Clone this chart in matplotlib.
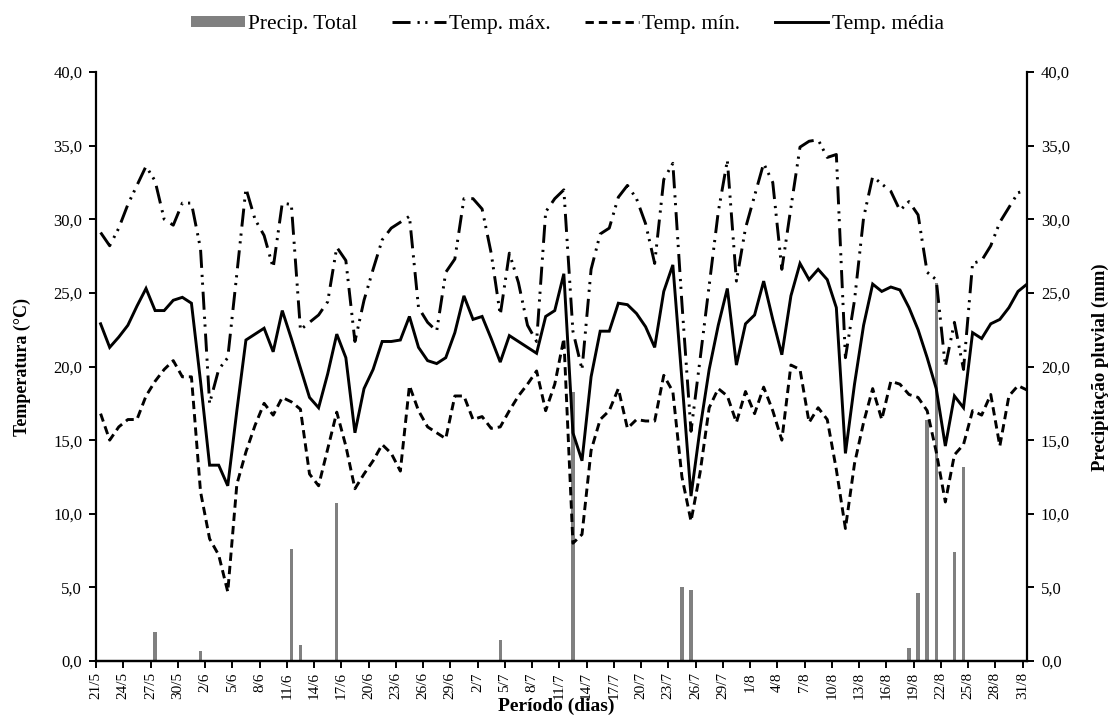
import matplotlib
matplotlib.use("Agg")
import matplotlib.pyplot as plt
from matplotlib.patches import Patch
from matplotlib.lines import Line2D
import numpy as np

plt.rcParams['font.family'] = ['Liberation Serif', 'DejaVu Serif']
plt.rcParams['lines.scale_dashes'] = False

# ---- data (daily, 21/5 .. 31/8) ----
tick_labels = ['21/5', '24/5', '27/5', '30/5', '2/6', '5/6', '8/6', '11/6', '14/6', '17/6',
               '20/6', '23/6', '26/6', '29/6', '2/7', '5/7', '8/7', '11/7', '14/7', '17/7',
               '20/7', '23/7', '26/7', '29/7', '1/8', '4/8', '7/8', '10/8', '13/8', '16/8',
               '19/8', '22/8', '25/8', '28/8', '31/8']

temp_max = [29.1, 28.2, 29.4, 31.0, 32.3, 33.6, 32.6, 30.0, 29.6, 31.1,
            31.1, 28.0, 17.5, 19.8, 20.6, 26.3, 32.1, 30.0, 28.9, 26.7,
            31.1, 31.0, 22.5, 23.0, 23.5, 24.4, 28.1, 27.2, 21.7, 24.5,
            26.6, 28.6, 29.4, 29.8, 30.2, 24.0, 23.0, 22.4, 26.4, 27.3,
            31.4, 31.4, 30.7, 27.7, 23.5, 27.7, 25.7, 22.8, 21.7, 30.5,
            31.4, 32.0, 22.4, 19.8, 26.6, 29.0, 29.4, 31.5, 32.3, 31.4,
            29.7, 27.0, 32.7, 33.8, 24.3, 15.6, 20.5, 25.5, 30.5, 34.0,
            25.8, 29.4, 31.6, 33.8, 32.5, 26.6, 30.8, 34.9, 35.3, 35.4,
            34.2, 34.4, 20.6, 24.5, 30.1, 32.9, 32.4, 31.9, 30.6, 31.2,
            30.3, 26.4, 25.9, 20.0, 23.0, 19.8, 27.0, 27.2, 28.2, 29.8,
            30.8, 31.8, 32.0]

temp_min = [16.8, 15.0, 15.9, 16.4, 16.4, 18.0, 19.0, 19.8, 20.4, 19.3,
            19.3, 11.5, 8.3, 7.2, 4.7, 12.0, 14.2, 16.0, 17.5, 16.7,
            17.9, 17.6, 17.1, 12.7, 11.9, 14.4, 16.9, 14.6, 11.7, 12.7,
            13.6, 14.7, 14.1, 12.9, 18.7, 17.0, 15.9, 15.5, 15.1, 18.0,
            18.0, 16.4, 16.6, 15.8, 15.9, 17.0, 18.0, 18.8, 19.7, 17.0,
            18.8, 21.9, 8.0, 8.6, 14.3, 16.4, 17.0, 18.5, 15.8, 16.4,
            16.3, 16.3, 19.4, 18.3, 12.5, 9.5, 12.8, 17.2, 18.5, 18.0,
            16.2, 18.3, 16.8, 18.6, 17.0, 15.0, 20.1, 19.8, 16.2, 17.2,
            16.4, 13.0, 9.0, 13.4, 16.2, 18.5, 16.4, 19.0, 18.8, 18.1,
            17.9, 17.0, 14.2, 10.8, 14.0, 14.7, 17.0, 16.7, 18.1, 14.6,
            18.0, 18.7, 18.4]

temp_med = [22.9, 21.3, 22.0, 22.8, 24.1, 25.3, 23.8, 23.8, 24.5, 24.7,
            24.3, 19.0, 13.3, 13.3, 11.9, 17.0, 21.8, 22.2, 22.6, 21.0,
            23.8, 21.9, 19.9, 17.9, 17.2, 19.5, 22.2, 20.6, 15.5, 18.5,
            19.8, 21.7, 21.7, 21.8, 23.4, 21.3, 20.4, 20.2, 20.6, 22.3,
            24.8, 23.2, 23.4, 21.9, 20.3, 22.1, 21.7, 21.3, 20.9, 23.4,
            23.8, 26.3, 15.5, 13.6, 19.3, 22.4, 22.4, 24.3, 24.2, 23.6,
            22.7, 21.3, 25.1, 26.9, 19.1, 11.2, 15.8, 19.8, 22.8, 25.3,
            20.1, 22.9, 23.5, 25.8, 23.2, 20.8, 24.8, 27.0, 25.9, 26.6,
            25.9, 24.0, 14.1, 18.8, 22.8, 25.6, 25.1, 25.4, 25.2, 24.0,
            22.5, 20.6, 18.5, 14.6, 18.0, 17.2, 22.3, 21.9, 22.9, 23.2,
            24.0, 25.1, 25.6]

precip = [0, 0, 0, 0, 0, 0, 2.0, 0, 0, 0,
          0, 0.7, 0, 0, 0, 0, 0, 0, 0, 0,
          0, 7.6, 1.1, 0, 0, 0, 10.7, 0.1, 0, 0,
          0, 0, 0, 0, 0, 0, 0, 0, 0.1, 0,
          0, 0, 0, 0, 1.4, 0, 0, 0, 0, 0,
          0, 0, 18.3, 0, 0, 0, 0, 0, 0, 0,
          0, 0, 0, 0, 5.0, 4.8, 0, 0, 0, 0,
          0, 0, 0, 0, 0, 0, 0, 0, 0, 0,
          0, 0, 0, 0, 0, 0, 0, 0, 0, 0.9,
          4.6, 16.4, 25.7, 0, 7.4, 13.2, 0, 0, 0, 0,
          0, 0, 0]

y_ticks = [0, 5, 10, 15, 20, 25, 30, 35, 40]

# ---- figure ----
fig = plt.figure(figsize=(11.17, 7.16), dpi=100)
ax = fig.add_axes([0.0860, 0.0768, 0.8335, 0.8226])
ax2 = ax.twinx()

n = len(temp_med)
x = np.arange(n) + 0.5

ax2.bar(x, precip, width=0.38, color='#808080', zorder=1)

lw = 2.1
max_dash = (13, 5, 1.6, 4, 1.6, 5)
min_dash = (6, 3.6)
ax.plot(x, temp_max, color='black', lw=lw, dashes=max_dash,
        dash_capstyle='butt', solid_joinstyle='miter')
ax.plot(x, temp_min, color='black', lw=lw, dashes=min_dash, dash_capstyle='butt')
ax.plot(x, temp_med, color='black', lw=lw, solid_joinstyle='miter')

ax.set_zorder(ax2.get_zorder() + 1)
ax.patch.set_visible(False)

fmt = lambda v: f"{v:.1f}".replace('.', ',')
for a in (ax, ax2):
    a.set_xlim(0, n - 0.5)
    a.set_ylim(0, 40)
    a.set_yticks(y_ticks)
    a.set_yticklabels([fmt(v) for v in y_ticks], fontsize=12)
    for s in a.spines.values():
        s.set_linewidth(1.6)
    a.spines['top'].set_visible(False)
    a.tick_params(axis='y', direction='out', length=5, width=1.4, pad=5)

ax.set_xticks(np.arange(0, n, 3))
ax.set_xticklabels(tick_labels, rotation=90, fontsize=11)
ax.tick_params(axis='x', direction='out', length=5, width=1.4, pad=3)
ax2.spines['left'].set_visible(False)
ax.spines['right'].set_visible(False)

fig.text(0.020, 0.487, 'Temperatura (°C)', rotation=90, ha='center', va='center',
         fontsize=13, fontweight='bold')
fig.text(0.985, 0.487, 'Precipitação pluvial (mm)', rotation=90, ha='center', va='center',
         fontsize=13.5, fontweight='bold')
fig.text(0.498, 0.013, 'Período (dias)', ha='center', va='center',
         fontsize=14, fontweight='bold')

handles = [
    Patch(facecolor='#808080', edgecolor='none'),
    Line2D([], [], color='black', lw=lw, dashes=max_dash, dash_capstyle='butt'),
    Line2D([], [], color='black', lw=lw, dashes=min_dash, dash_capstyle='butt'),
    Line2D([], [], color='black', lw=lw),
]
labels = ['Precip. Total', 'Temp. máx.', 'Temp. mín.', 'Temp. média']
fig.legend(handles, labels, loc='center', bbox_to_anchor=(0.508, 0.966), ncol=4,
           frameon=False, fontsize=15.5, handlelength=2.5, handleheight=0.42,
           columnspacing=1.6, handletextpad=0.15)

fig.savefig('out.png', dpi=100)
